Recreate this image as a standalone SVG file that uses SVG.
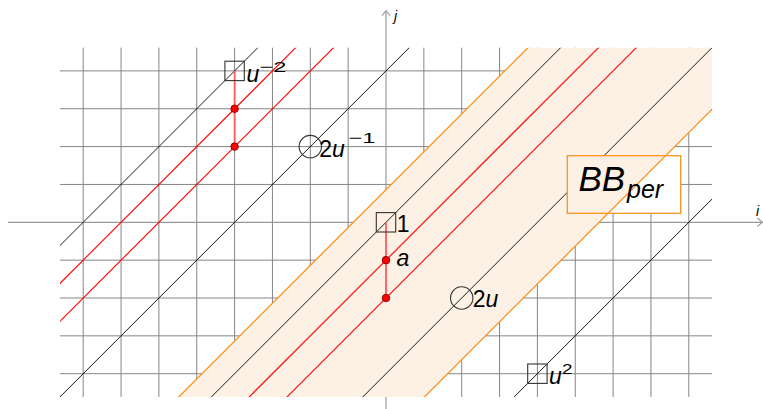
<svg xmlns="http://www.w3.org/2000/svg" width="763" height="409" viewBox="0 0 763 409">
<style>
.grid{stroke:#858585;stroke-width:1;fill:none}
.axis{stroke:#999;stroke-width:1.2;fill:none}
.blk{stroke:#1a1a1a;stroke-width:1;fill:none}
.red{stroke:#ff0000;stroke-width:1.1;fill:none}
.org{stroke:#f7931e;stroke-width:1.3;fill:none}
.band{fill:#fdf0e4;stroke:none}
.node{stroke:#333;stroke-width:1.1;fill:none}
.dot{fill:#ff0000;stroke:#7a0000;stroke-width:0.8}
.conn{stroke:#ff5a5a;stroke-width:1.8;fill:none}
.lbl{font-family:"Liberation Sans",Arial,sans-serif;font-size:23px;fill:#000}
.sup{font-family:"Liberation Sans",Arial,sans-serif;font-size:15px;fill:#000}
.it{font-style:italic}
.ax{font-family:"Liberation Sans",Arial,sans-serif;font-size:14px;font-style:italic;fill:#000}
</style>
<defs>
<clipPath id="gc"><rect x="60" y="47.7" width="652" height="349.2"/></clipPath>
<marker id="arr" viewBox="0 0 10 10" refX="9" refY="5" markerWidth="10" markerHeight="10" markerUnits="userSpaceOnUse" orient="auto">
<path d="M4,1 L9,5 L4,9" fill="none" stroke="#999" stroke-width="1.1"/>
</marker>
</defs>
<rect width="763" height="409" fill="#fff"/>
<g id="grid" class="grid">
<path d="M83.2,47.7V396.9M121.05,47.7V396.9M158.9,47.7V396.9M196.75,47.7V396.9M234.6,47.7V396.9M272.45,47.7V396.9M310.3,47.7V396.9M348.15,47.7V396.9M423.85,47.7V396.9M461.7,47.7V396.9M499.55,47.7V396.9M537.4,47.7V396.9M575.25,47.7V396.9M613.1,47.7V396.9M650.95,47.7V396.9M688.8,47.7V396.9"/>
<path d="M60,70.9H712M60,108.75H712M60,146.6H712M60,184.45H712M60,260.15H712M60,298H712M60,335.85H712M60,373.7H712"/>
</g>
<g id="axes">
<line class="axis" x1="8" y1="222.3" x2="762.5" y2="222.3" marker-end="url(#arr)"/>
<line class="axis" x1="386" y1="409" x2="386" y2="10.7" marker-end="url(#arr)"/>
<text class="ax" x="756" y="216">i</text>
<text class="ax" x="394" y="21">j</text>
</g>
<g id="band-fill" clip-path="url(#gc)">
<polygon class="band" points="155.7,420 555.7,20 801.4,20 401.4,420"/>
</g>
<g id="diagonals" clip-path="url(#gc)">
<line class="blk" x1="-114.5" y1="420" x2="285.5" y2="20"/>
<line class="red" x1="-76.65" y1="420" x2="323.35" y2="20"/>
<line class="red" x1="-38.8" y1="420" x2="361.2" y2="20"/>
<line class="blk" x1="36.9" y1="420" x2="436.9" y2="20"/>
<line class="blk" x1="188.3" y1="420" x2="588.3" y2="20"/>
<line class="red" x1="226.15" y1="420" x2="626.15" y2="20"/>
<line class="red" x1="264" y1="420" x2="664" y2="20"/>
<line class="blk" x1="339.7" y1="420" x2="739.7" y2="20"/>
<line class="blk" x1="491.1" y1="420" x2="891.1" y2="20"/>
</g>
<g id="bbper">
<rect x="567.3" y="155.7" width="113.4" height="57.6" fill="#fff"/>
<polygon class="band" points="567.3,155.7 665.7,155.7 608.1,213.3 567.3,213.3"/>
</g>
<g id="band-edges" clip-path="url(#gc)">
<line class="org" x1="155.7" y1="420" x2="555.7" y2="20"/>
<line class="org" x1="401.4" y1="420" x2="801.4" y2="20"/>
</g>
<g id="bbper-frame">
<rect x="567.3" y="155.7" width="113.4" height="57.6" class="org"/>
<text class="lbl it" x="578.5" y="191" style="font-size:35px">BB<tspan style="font-size:25px" x="627" y="198">per</tspan></text>
</g>
<g id="connectors">
<line class="conn" x1="234.6" y1="70.9" x2="234.6" y2="146.6"/>
<line class="conn" x1="386" y1="222.3" x2="386" y2="298"/>
</g>
<g id="node-u-2">
<rect class="node" x="224.9" y="61.2" width="19.4" height="19.4"/>
<text class="lbl it" x="246.5" y="81.5">u</text>
<text class="sup" x="259.5" y="71.7" textLength="27" lengthAdjust="spacingAndGlyphs">−2</text>
</g>
<g id="dot-u-2a"><circle class="dot" cx="234.6" cy="108.75" r="3.8"/></g>
<g id="dot-u-2b"><circle class="dot" cx="234.6" cy="146.6" r="3.8"/></g>
<g id="node-2u-1">
<circle class="node" cx="310.3" cy="146.6" r="11.2"/>
<text class="lbl" x="319.3" y="156.7">2<tspan class="it">u</tspan></text>
<text class="sup" x="348.5" y="142.7" textLength="27" lengthAdjust="spacingAndGlyphs">−1</text>
</g>
<g id="node-1">
<rect class="node" x="376.3" y="212.6" width="19.4" height="19.4"/>
<text class="lbl" x="396.8" y="231.7">1</text>
</g>
<g id="dot-a"><circle class="dot" cx="386" cy="260.15" r="3.8"/>
<text class="lbl it" x="396.5" y="266">a</text></g>
<g id="dot-b"><circle class="dot" cx="386" cy="298" r="3.8"/></g>
<g id="node-2u">
<circle class="node" cx="461.7" cy="298" r="11.2"/>
<text class="lbl" x="472.8" y="307.3">2<tspan class="it">u</tspan></text>
</g>
<g id="node-u2">
<rect class="node" x="527.7" y="364" width="19.4" height="19.4"/>
<text class="lbl it" x="549" y="384.3">u</text>
<text class="sup" x="562" y="374.3" textLength="10.5" lengthAdjust="spacingAndGlyphs">2</text>
</g>
</svg>
